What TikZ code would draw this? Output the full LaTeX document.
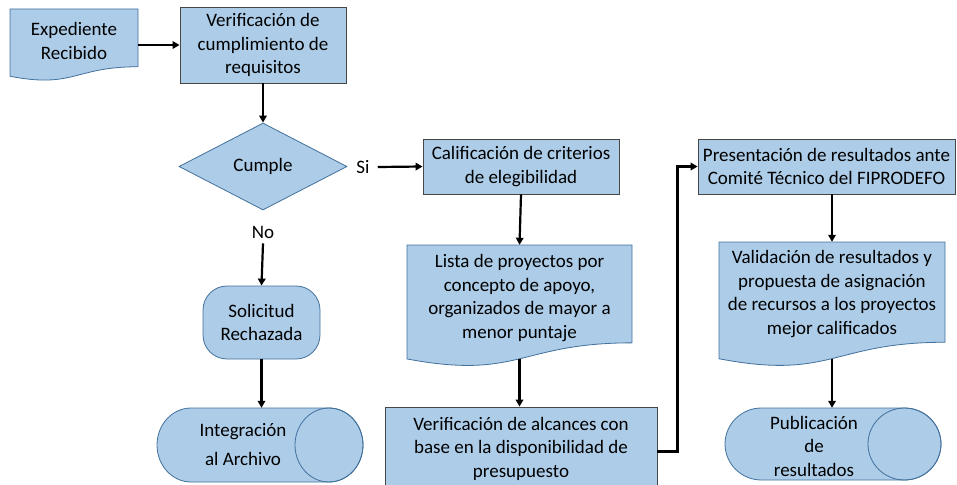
\documentclass[tikz,border=0pt]{standalone}
\usepackage{fontspec}
\setmainfont{Carlito}
\usetikzlibrary{arrows.meta,shapes.geometric}
\definecolor{fillb}{RGB}{172,204,232}
\definecolor{edgeb}{RGB}{65,113,156}
\definecolor{edgeg}{RGB}{70,70,70}
\newcommand\docshape[4]{\draw[shp] (#1,#2) -- (#3,#2) -- (#3,{#2+0.802*#4}) .. controls ({(#1+#3)/2},{#2+0.802*#4}) and ({(#1+#3)/2},{#2+1.107*#4}) .. (#1,{#2+0.934*#4}) -- cycle;}
\newcommand\cylshape[6]{%
 \draw[shp] ({#1+#5},#3) -- ({#2-#5},#3) arc[start angle=90,end angle=-90,x radius=#5pt,y radius=#6pt] -- ({#1+#5},#4) arc[start angle=270,end angle=90,x radius=#5pt,y radius=#6pt] -- cycle;
 \draw[shp, fill=none] ({#2-#5},{(#3+#4)/2}) ellipse[x radius=#5pt, y radius=#6pt];}
\begin{document}
\begin{tikzpicture}[x=1pt,y=-1pt,font=\fontsize{19}{23.5}\selectfont,
  box/.style={draw=edgeg, line width=0.8pt, fill=fillb, align=center, inner sep=0pt},
  shp/.style={draw=edgeb, line width=0.8pt, fill=fillb},
  txt/.style={align=center, inner sep=0pt},
  lbl/.style={inner sep=5pt},
  conn/.style={line width=2.2pt, -{Triangle[length=7pt,width=7.5pt]}}]
\useasboundingbox (0,0) rectangle (957,484);

% Expediente Recibido
\docshape{10}{9}{138}{72}
\node[txt, minimum width=128pt] (exp) at (74,41) {Expediente\\Recibido};

% Verificacion de requisitos
\node[box, minimum width=166pt, minimum height=76pt] (ver) at (263,45) {Verificación de\\cumplimiento de\\requisitos};

% Diamond
\node[shp, diamond, aspect=1.93, minimum width=168pt, minimum height=87pt, inner sep=0pt] (dia) at (263,166.5) {Cumple};
\node[lbl, inner sep=8pt] (si) at (363,167) {Si};
\node[lbl] (no) at (263,232) {No};

% Solicitud rechazada
\node[shp, rounded corners=24pt, minimum width=117pt, minimum height=73pt, align=center, inner sep=0pt] (sol) at (261.5,322.5) {Solicitud\\Rechazada};

% Integracion al archivo
\cylshape{157}{363}{408}{482}{34}{37}
\node[minimum width=206pt, minimum height=74pt, inner sep=0pt] (integ) at (260,445) {};
\node[txt, font=\fontsize{19}{29}\selectfont] (integt) at (243,445) {Integración\\al Archivo};

% Calificacion
\node[box, minimum width=196pt, minimum height=55pt] (cal) at (521,166.5) {Calificación de criterios\\de elegibilidad};

% Lista
\docshape{407}{245}{632}{122}
\node[minimum width=225pt, minimum height=114pt, inner sep=0pt] (lista) at (519.5,302) {};
\node[txt] (listat) at (519.5,298) {Lista de proyectos por\\concepto de apoyo,\\organizados de mayor a\\menor puntaje};

% Verificacion de alcances
\node[box, minimum width=272pt, minimum height=83pt] (alc) at (521,448.5) {Verificación de alcances con\\base en la disponibilidad de\\presupuesto};

% Presentacion
\node[box, minimum width=257pt, minimum height=55pt] (pres) at (826.5,166.5) {Presentación de resultados ante\\Comité Técnico del FIPRODEFO};

% Validacion
\docshape{719}{242}{945}{125}
\node[minimum width=226pt, minimum height=116.6pt, inner sep=0pt] (val) at (832,300.3) {};
\node[txt] (valt) at (832,294) {Validación de resultados y\\propuesta de asignación\\de recursos a los proyectos\\mejor calificados};

% Publicacion
\cylshape{725}{941}{408}{480}{36.5}{36}
\node[minimum width=216pt, minimum height=72pt, inner sep=0pt] (pub) at (833,444) {};
\node[txt] (pubt) at (814,446) {Publicación\\de\\resultados};

% Connectors
\draw[conn] (ver.west -| exp.east) -- (ver.west);
\draw[conn] (ver.south) -- (dia.north);
\draw[conn] (si.east) -- (cal.west);
\draw[conn] (no.south) -- (sol.north);
\draw[conn] (sol.south) -- (sol.south |- integ.north);
\draw[conn] (cal.south) -- (lista.north);
\draw[conn] (lista.south) -- (lista.south |- alc.north);
\draw[conn] ([yshift=-3pt]alc.east) -- ++(20,0) |- (pres.west);
\draw[conn] (val.north |- pres.south) -- (val.north);
\draw[conn] (val.south) -- (val.south |- pub.north);
\end{tikzpicture}
\end{document}
